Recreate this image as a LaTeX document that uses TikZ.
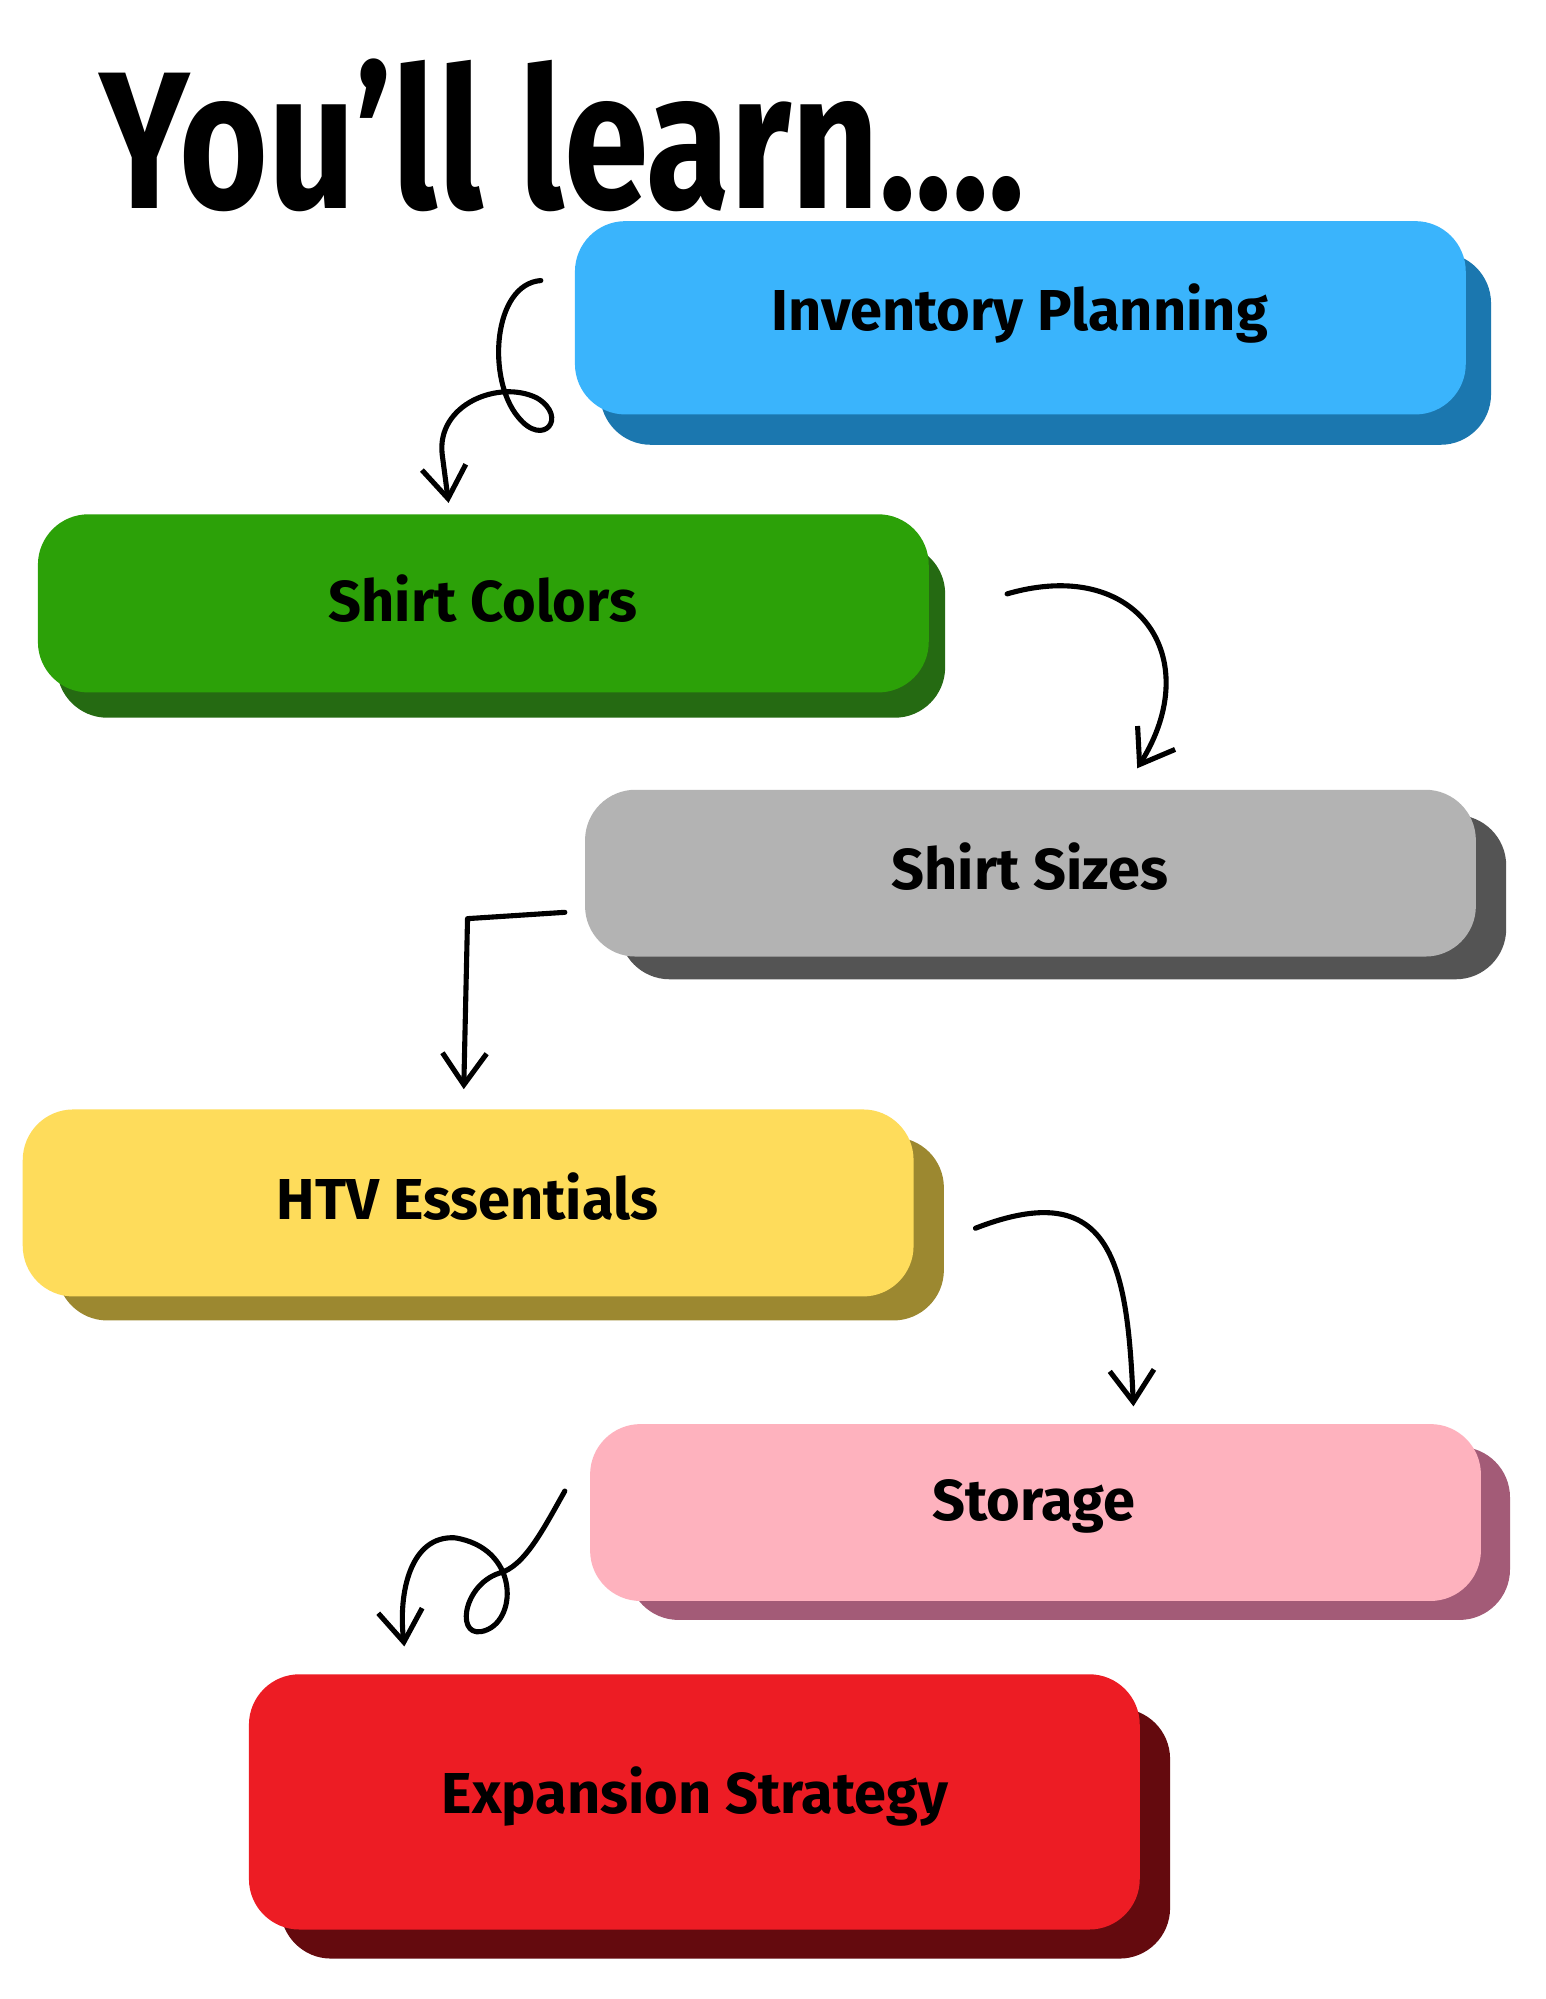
\documentclass[tikz,border=0pt]{standalone}
\usepackage{fontspec}
\setmainfont{Fira Sans}
\usetikzlibrary{arrows.meta}
\definecolor{c1}{HTML}{3AB4FC}\definecolor{s1}{HTML}{1B77AF}
\definecolor{c2}{HTML}{2CA108}\definecolor{s2}{HTML}{256A12}
\definecolor{c3}{HTML}{B3B3B3}\definecolor{s3}{HTML}{545454}
\definecolor{c4}{HTML}{FEDC5B}\definecolor{s4}{HTML}{9C8830}
\definecolor{c5}{HTML}{FEB2BE}\definecolor{s5}{HTML}{A35B77}
\definecolor{c6}{HTML}{ED1C24}\definecolor{s6}{HTML}{640A0E}
\begin{document}
\begin{tikzpicture}[x=0.02cm,y=-0.02cm,
  box/.style={rounded corners=0.8cm},
  lbl/.style={font=\fontsize{26}{30}\selectfont\bfseries},
  arr/.style={line width=2.3pt,line cap=round,line join=round,-{Straight Barb[length=0.5cm,width=0.7cm]}}]
\useasboundingbox (0,0) rectangle (1223,1582);
\fill[white] (0,0) rectangle (1223,1582);
\node[font=\fontsize{88}{88}\selectfont\bfseries,anchor=base,xscale=0.78] (title) at (445,165) {You’ll learn....};
% boxes
\fill[s1,box] (475,200) rectangle (1180,352);
\fill[c1,box] (455,175) rectangle (1160,328);
\node[lbl] (b1) at (807,248) {Inventory Planning};
\fill[s2,box] (45,430) rectangle (748,568);
\fill[c2,box] (30,407) rectangle (735,548);
\node[lbl] (b2) at (382,474) {Shirt Colors};
\fill[s3,box] (490,645) rectangle (1192,775);
\fill[c3,box] (463,625) rectangle (1168,757);
\node[lbl] (b3) at (815,686) {Shirt Sizes};
\fill[s4,box] (45,900) rectangle (747,1045);
\fill[c4,box] (18,878) rectangle (723,1026);
\node[lbl] (b4) at (370,947) {HTV Essentials};
\fill[s5,box] (497,1145) rectangle (1195,1282);
\fill[c5,box] (467,1127) rectangle (1172,1267);
\node[lbl] (b5) at (818,1192) {Storage};
\fill[s6,box] (222,1352) rectangle (926,1550);
\fill[c6,box] (197,1325) rectangle (902,1527);
\node[lbl] (b6) at (550,1422) {Expansion Strategy};
% arrows
\coordinate (a1s) at (428,222); \coordinate (a1e) at (355,398);
\draw[arr] (a1s) .. controls (390,225) and (385,300) .. (410,330)
  .. controls (430,355) and (450,330) .. (425,315)
  .. controls (395,300) and (345,320) .. (350,360) -- (a1e);
\coordinate (a2s) at (797,470); \coordinate (a2e) at (900,608);
\draw[arr] (a2s) .. controls (900,440) and (955,520) .. (a2e);
\coordinate (a3s) at (447,722); \coordinate (a3m) at (370,727); \coordinate (a3e) at (367,862);
\draw[arr] (a3s) -- (a3m) -- (a3e);
\coordinate (a4s) at (772,972); \coordinate (a4e) at (897,1113);
\draw[arr] (a4s) .. controls (880,930) and (892,1000) .. (a4e);
\coordinate (a5s) at (447,1180); \coordinate (a5e) at (320,1303);
\draw[arr] (a5s) .. controls (430,1210) and (415,1240) .. (395,1245)
  .. controls (365,1255) and (360,1300) .. (385,1290)
  .. controls (410,1280) and (410,1225) .. (360,1217)
  .. controls (325,1215) and (315,1260) .. (a5e);
\end{tikzpicture}
\end{document}
